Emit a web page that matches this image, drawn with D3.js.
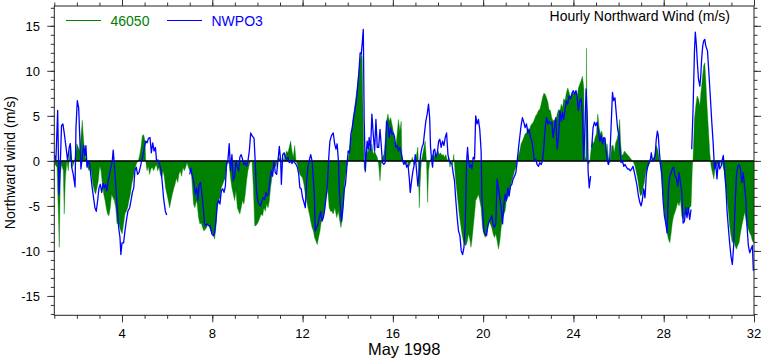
<!DOCTYPE html>
<html><head><meta charset="utf-8">
<script src="https://cdn.jsdelivr.net/npm/d3@7"></script>
<style>body{margin:0;background:#fff}svg{display:block;font-family:"Liberation Sans",Arial,sans-serif}</style>
</head><body><svg id="c" width="762" height="359"></svg>
<script>
// Series 46050 (filled): [day of May 1998, northward wind m/s]
const obs46050 = [[1.00,-0.3],[1.12,-0.7],[1.19,-6.7],[1.22,-9.6],[1.27,-1.5],[1.32,-0.4],[1.40,-1.1],[1.44,-5.9],[1.49,-1.9],[1.56,0],[1.62,-1.1],[1.68,0.8],[1.71,2.0],[1.76,0.5],[1.81,-0.7],[1.89,0],[1.95,0.7],[2.00,1.9],[2.06,1.5],[2.12,1.1],[2.18,2.6],[2.24,4.5],[2.30,2.2],[2.36,0.7],[2.42,0],[2.48,-0.7],[2.54,-1.1],[2.60,-0.7],[2.65,-1.5],[2.71,-2.6],[2.77,-3.3],[2.83,-3.7],[2.89,-3.0],[2.95,-2.2],[3.01,-0.6],[3.07,-1.1],[3.13,-2.6],[3.19,-3.7],[3.25,-4.4],[3.30,-5.2],[3.36,-5.9],[3.42,-6.1],[3.48,-5.2],[3.54,-3.7],[3.60,-4.1],[3.66,-4.4],[3.72,-5.2],[3.78,-7.0],[3.84,-6.7],[3.90,-7.4],[3.95,-7.8],[4.01,-8.1],[4.07,-7.0],[4.13,-5.9],[4.19,-5.6],[4.25,-5.2],[4.31,-4.4],[4.37,-3.7],[4.43,-2.6],[4.49,-1.9],[4.55,-1.1],[4.60,-0.6],[4.66,-0.2],[4.72,0],[4.78,0.6],[4.84,1.5],[4.90,2.8],[4.96,2.9],[5.02,2.2],[5.05,0],[5.11,-1.1],[5.17,-0.6],[5.22,-1.5],[5.28,-0.9],[5.34,-0.7],[5.40,-1.1],[5.46,-0.7],[5.52,-0.4],[5.58,-1.1],[5.64,-0.7],[5.70,-1.5],[5.76,-1.9],[5.82,-1.1],[5.87,-1.7],[5.93,-3.0],[5.99,-3.7],[6.05,-4.4],[6.11,-5.2],[6.17,-4.4],[6.23,-3.7],[6.29,-3.1],[6.35,-2.6],[6.41,-1.9],[6.47,-2.4],[6.52,-1.5],[6.58,-1.1],[6.64,-1.7],[6.70,-0.7],[6.76,-1.1],[6.82,-0.7],[6.88,-0.2],[6.94,-0.7],[7.00,-1.1],[7.06,-0.9],[7.12,-3.0],[7.17,-4.8],[7.23,-5.2],[7.29,-4.4],[7.33,-4.8],[7.39,-6.3],[7.45,-7.0],[7.51,-6.9],[7.57,-7.4],[7.63,-7.8],[7.69,-7.6],[7.75,-7.4],[7.81,-7.0],[7.87,-7.4],[7.93,-7.8],[7.98,-8.0],[8.04,-8.1],[8.10,-8.7],[8.16,-7.4],[8.22,-5.2],[8.28,-4.4],[8.34,-4.1],[8.40,-3.0],[8.46,-2.6],[8.52,-2.2],[8.58,-1.9],[8.63,-0.7],[8.69,0],[8.75,-0.4],[8.81,-1.9],[8.87,-3.0],[8.93,-3.7],[8.99,-4.4],[9.05,-3.3],[9.11,-5.2],[9.17,-5.6],[9.22,-5.9],[9.28,-5.2],[9.34,-4.4],[9.40,-4.8],[9.46,-3.7],[9.52,-2.2],[9.58,-1.1],[9.64,-0.4],[9.70,0],[9.76,0],[9.82,-3.0],[9.88,-7.2],[9.93,-7.2],[9.99,-7.0],[10.05,-6.7],[10.11,-6.3],[10.17,-5.9],[10.23,-6.1],[10.29,-5.2],[10.35,-5.6],[10.41,-4.8],[10.47,-5.2],[10.53,-4.4],[10.58,-3.0],[10.64,-1.9],[10.70,-1.1],[10.76,-0.4],[10.82,-0.7],[10.88,0],[10.94,0.4],[11.00,0.2],[11.06,-0.2],[11.12,0.4],[11.18,0],[11.23,0.6],[11.29,1.1],[11.35,0.9],[11.41,1.5],[11.47,2.2],[11.53,1.1],[11.59,0.4],[11.65,1.7],[11.71,0],[11.77,-0.4],[11.83,-1.1],[11.88,-1.5],[11.94,-1.7],[12.00,-1.9],[12.06,-2.6],[12.12,-3.7],[12.18,-4.4],[12.24,-5.2],[12.30,-5.9],[12.36,-6.7],[12.42,-7.4],[12.48,-7.8],[12.53,-8.5],[12.59,-8.9],[12.65,-9.3],[12.71,-8.5],[12.77,-7.8],[12.83,-6.7],[12.89,-6.3],[12.95,-5.9],[13.01,-4.8],[13.07,-3.0],[13.13,-3.7],[13.18,-5.2],[13.24,-5.6],[13.30,-5.6],[13.36,-5.9],[13.43,-5.2],[13.51,-6.3],[13.58,-5.6],[13.65,-6.7],[13.70,-7.4],[13.76,-6.3],[13.82,-4.4],[13.87,-2.2],[13.95,-0.7],[14.01,0],[14.07,1.1],[14.13,2.2],[14.18,3.3],[14.24,4.8],[14.30,5.9],[14.36,7.0],[14.42,8.1],[14.48,9.6],[14.54,11.1],[14.60,12.0],[14.64,11.5],[14.69,3.7],[14.73,-0.7],[14.78,-1.3],[14.83,1.5],[14.89,0.9],[14.95,1.5],[15.01,0.9],[15.07,1.9],[15.13,0.7],[15.19,1.1],[15.25,0.7],[15.31,0.4],[15.37,-0.4],[15.43,-2.2],[15.48,-0.4],[15.54,0.4],[15.60,0.7],[15.66,2.2],[15.72,4.4],[15.78,5.2],[15.84,4.4],[15.90,4.8],[15.96,4.1],[16.02,3.3],[16.08,2.2],[16.13,1.5],[16.19,3.0],[16.25,4.6],[16.31,3.3],[16.37,4.4],[16.40,0.7],[16.46,0],[16.52,-0.2],[16.58,-0.4],[16.64,0],[16.70,-0.7],[16.75,-0.4],[16.81,0],[16.87,0.4],[16.93,-0.4],[16.99,0],[17.05,0.7],[17.11,1.5],[17.17,-5.2],[17.20,-3.0],[17.26,0],[17.32,0.7],[17.38,1.5],[17.43,2.2],[17.49,0],[17.54,-4.6],[17.58,-1.1],[17.64,0],[17.70,0.4],[17.76,0.7],[17.82,0.4],[17.88,0.9],[17.94,0.4],[18.00,1.1],[18.06,0.7],[18.11,0.9],[18.17,0.6],[18.23,0.7],[18.29,0.4],[18.35,0.7],[18.41,0],[18.47,0.4],[18.53,-0.7],[18.59,0],[18.65,-0.4],[18.70,0.7],[18.76,-1.5],[18.82,-3.0],[18.88,-4.4],[18.94,-5.9],[19.00,-7.0],[19.06,-8.1],[19.12,-8.9],[19.18,-9.3],[19.24,-9.4],[19.30,-8.9],[19.35,-8.1],[19.41,-8.7],[19.46,-9.6],[19.50,-8.9],[19.56,-7.4],[19.62,-5.9],[19.67,-4.4],[19.73,-4.1],[19.79,-3.7],[19.85,-4.4],[19.91,-5.2],[19.97,-7.4],[20.03,-8.1],[20.09,-8.5],[20.15,-8.1],[20.21,-7.4],[20.27,-6.7],[20.32,-7.0],[20.38,-7.4],[20.44,-8.1],[20.50,-8.5],[20.56,-8.1],[20.62,-8.9],[20.68,-9.8],[20.74,-8.9],[20.80,-7.4],[20.86,-6.3],[20.92,-5.9],[20.97,-5.6],[21.03,-4.4],[21.09,-4.1],[21.15,-3.7],[21.21,-3.0],[21.27,-2.2],[21.33,-1.7],[21.39,-1.1],[21.45,-0.7],[21.51,0],[21.57,0.7],[21.62,1.1],[21.68,1.9],[21.74,2.2],[21.80,2.6],[21.86,3.0],[21.92,3.1],[21.98,3.7],[22.04,3.3],[22.10,3.9],[22.16,4.1],[22.22,4.3],[22.27,4.6],[22.33,5.0],[22.39,5.2],[22.45,5.6],[22.51,5.7],[22.57,6.3],[22.63,7.0],[22.69,7.5],[22.75,7.4],[22.81,7.0],[22.87,6.5],[22.92,5.7],[22.98,5.6],[23.04,4.8],[23.10,4.4],[23.16,4.6],[23.22,4.4],[23.28,5.2],[23.34,5.7],[23.40,5.4],[23.46,6.3],[23.52,5.9],[23.57,6.9],[23.63,6.7],[23.69,7.6],[23.75,8.1],[23.81,7.6],[23.87,7.0],[23.93,7.6],[23.99,7.4],[24.05,7.6],[24.11,7.8],[24.16,7.0],[24.22,8.1],[24.28,8.5],[24.34,8.9],[24.40,9.4],[24.46,8.1],[24.49,0],[24.55,0.5],[24.58,12.5],[24.61,0],[24.67,-0.4],[24.73,0],[24.79,1.5],[24.85,2.2],[24.90,1.9],[24.96,2.6],[25.02,3.0],[25.08,5.2],[25.14,3.7],[25.20,3.0],[25.26,3.3],[25.32,2.2],[25.38,2.6],[25.44,1.1],[25.49,1.9],[25.55,0.4],[25.61,-0.2],[25.64,0.2],[25.70,1.7],[25.76,1.7],[25.81,0.9],[25.87,2.0],[25.93,2.4],[25.99,3.1],[26.05,4.6],[26.09,2.0],[26.14,0.6],[26.20,0.7],[26.26,1.1],[26.32,0.9],[26.38,0.7],[26.43,0.6],[26.49,0.4],[26.55,0.2],[26.61,0],[26.67,-0.2],[26.73,-0.6],[26.79,-1.3],[26.85,-2.0],[26.91,-3.1],[26.97,-3.9],[27.03,-3.7],[27.08,-3.1],[27.14,-2.4],[27.20,-1.3],[27.26,-0.9],[27.32,-0.6],[27.38,-0.2],[27.44,0],[27.50,0.2],[27.56,0.4],[27.62,0.9],[27.67,1.7],[27.73,1.3],[27.79,0.4],[27.85,-0.6],[27.91,-2.0],[27.97,-3.9],[28.03,-5.7],[28.09,-6.9],[28.15,-8.0],[28.21,-8.7],[28.27,-9.1],[28.33,-8.0],[28.38,-6.9],[28.44,-6.1],[28.50,-5.7],[28.56,-5.2],[28.62,-4.6],[28.68,-5.0],[28.74,-4.3],[28.80,-6.1],[28.86,-6.5],[28.92,-6.1],[28.98,-5.7],[29.03,-5.4],[29.09,-5.7],[29.15,-5.2],[29.21,-5.0],[29.27,-0.6],[29.30,0.2],[29.36,4.6],[29.42,6.1],[29.48,7.2],[29.54,6.9],[29.60,6.1],[29.65,7.6],[29.71,9.1],[29.77,10.6],[29.82,10.9],[29.86,9.1],[29.92,6.1],[29.98,3.5],[30.04,0.9],[30.10,-0.6],[30.16,-1.3],[30.22,-2.0],[30.27,-0.9],[30.33,-0.6],[30.39,-0.2],[30.45,-0.6],[30.51,-0.2],[30.57,0],[30.63,-0.6],[30.69,-1.3],[30.75,-2.8],[30.81,-4.3],[30.87,-5.7],[30.92,-7.2],[30.98,-8.3],[31.04,-9.1],[31.10,-8.7],[31.16,-9.4],[31.22,-9.8],[31.28,-9.4],[31.34,-9.1],[31.40,-8.0],[31.46,-7.2],[31.52,-6.5],[31.58,-5.7],[31.64,-6.5],[31.69,-7.2],[31.75,-7.6],[31.81,-8.0],[31.87,-8.3],[31.93,-8.9],[32.00,-9.1]];

// Series NWPO3 (line); null marks missing hours
const obsNWPO3 = [[1.00,0.7],[1.07,0],[1.15,5.6],[1.21,-3.7],[1.27,0],[1.32,3.9],[1.38,4.1],[1.44,3.1],[1.52,1.5],[1.59,0],[1.66,1.5],[1.71,1.9],[1.77,-0.7],[1.84,-1.5],[1.92,-2.9],[1.96,3.7],[2.02,6.7],[2.08,5.9],[2.14,1.9],[2.18,-0.9],[2.24,0.4],[2.30,1.7],[2.36,0.6],[2.40,1.7],[2.45,-0.7],[2.51,0],[2.57,-0.4],[2.62,-1.7],[2.68,-3.0],[2.74,-4.1],[2.80,-5.2],[2.86,-5.6],[2.92,-4.4],[2.98,-3.0],[3.04,-2.6],[3.10,-3.5],[3.16,-2.5],[3.22,-3.0],[3.27,-2.6],[3.33,-3.3],[3.39,-2.2],[3.45,-1.5],[3.51,-0.7],[3.57,0],[3.61,1.2],[3.67,-0.7],[3.73,-3.0],[3.79,-5.2],[3.85,-7.4],[3.91,-8.5],[3.95,-10.4],[4.00,-9.1],[4.07,-9.1],[4.13,-7.8],[4.19,-6.7],[4.26,-5.6],[4.34,-5.2],[4.40,-4.4],[4.46,-3.5],[4.52,-3.0],[4.57,-1.1],[4.63,-0.7],[4.69,-1.5],[4.75,-1.3],[4.81,-0.7],[4.87,0],[4.93,0.7],[4.99,1.5],[5.05,2.2],[5.11,2.0],[5.17,2.5],[5.24,2.6],[5.30,0.9],[5.36,2.0],[5.42,1.1],[5.48,1.5],[5.53,0],[5.59,0.1],[5.67,-0.4],[5.73,-1.1],[5.79,-2.6],[5.84,-4.1],[5.92,-5.6],[5.98,-6.0],[5.99,null],[7.00,-1.5],[7.05,-0.8],[7.10,-1.5],[7.17,-2.2],[7.25,-3.7],[7.31,-3.0],[7.36,-4.4],[7.42,-2.6],[7.48,-2.4],[7.54,-3.7],[7.60,-5.2],[7.66,-7.0],[7.72,-7.2],[7.78,-7.0],[7.84,-7.2],[7.91,-7.2],[7.98,-8.1],[8.04,-8.3],[8.10,-8.0],[8.16,-6.7],[8.22,-4.8],[8.28,-4.4],[8.34,-4.8],[8.40,-3.3],[8.46,-3.1],[8.52,-3.5],[8.58,-2.8],[8.63,-0.4],[8.69,0],[8.75,1.9],[8.81,-1.1],[8.87,0.7],[8.93,-2.2],[8.99,-1.7],[9.05,0],[9.11,-0.7],[9.17,-1.1],[9.22,0.4],[9.28,0.7],[9.34,0.2],[9.40,-0.4],[9.46,-0.2],[9.52,-0.6],[9.58,0],[9.64,1.1],[9.70,3.1],[9.76,2.8],[9.85,2.5],[9.90,0],[9.95,-3.0],[10.01,-4.4],[10.07,-4.8],[10.13,-5.0],[10.20,-4.4],[10.26,-4.1],[10.32,-4.3],[10.38,-3.5],[10.44,-3.9],[10.50,-3.5],[10.55,-2.2],[10.61,-1.1],[10.67,-1.7],[10.73,0],[10.79,-1.3],[10.85,-1.5],[10.91,0],[10.97,1.6],[11.03,0],[11.06,-2.6],[11.12,0.7],[11.18,0.9],[11.23,0.4],[11.29,0.2],[11.35,0.4],[11.41,-0.2],[11.47,0],[11.53,-0.3],[11.59,0],[11.65,-0.2],[11.71,-0.4],[11.77,-0.7],[11.83,-1.5],[11.88,-3.0],[11.94,-3.1],[12.00,-4.1],[12.06,-4.6],[12.12,-5.2],[12.18,-2.2],[12.24,-0.7],[12.30,0.1],[12.36,0.7],[12.42,0],[12.48,-2.2],[12.52,-3.7],[12.56,-7.8],[12.62,-7.4],[12.68,-7.0],[12.74,-6.3],[12.80,-5.6],[12.86,-6.7],[12.92,-6.3],[12.98,-5.4],[13.04,-4.1],[13.10,-2.6],[13.15,0],[13.21,2.2],[13.28,2.8],[13.36,3.1],[13.42,1.9],[13.48,1.3],[13.53,1.9],[13.59,0],[13.62,-3.1],[13.68,-5.2],[13.73,-6.7],[13.79,-5.2],[13.85,-3.1],[13.90,-2.6],[13.96,-0.7],[14.02,1.1],[14.08,0.9],[14.14,3.0],[14.20,3.7],[14.26,4.8],[14.32,5.7],[14.38,6.7],[14.44,8.3],[14.50,10.0],[14.55,12.0],[14.60,11.9],[14.64,13.0],[14.69,14.6],[14.73,4.4],[14.78,-1.1],[14.82,0.7],[14.86,2.2],[14.91,1.3],[14.95,2.6],[15.01,1.1],[15.07,5.2],[15.13,3.0],[15.19,1.1],[15.25,4.6],[15.31,1.5],[15.37,1.5],[15.43,3.5],[15.48,1.9],[15.54,-0.2],[15.60,-0.4],[15.66,-0.2],[15.72,4.4],[15.78,4.1],[15.84,2.6],[15.90,3.7],[15.96,3.0],[16.02,3.1],[16.08,2.6],[16.13,1.5],[16.19,1.7],[16.25,1.1],[16.31,1.5],[16.37,0.9],[16.43,0],[16.49,-0.4],[16.55,0],[16.61,-0.7],[16.67,-0.4],[16.73,-2.0],[16.77,-3.5],[16.83,-2.2],[16.89,-1.1],[16.95,-0.4],[16.99,0.7],[17.05,-1.1],[17.11,-2.8],[17.17,-1.1],[17.23,0.7],[17.29,1.5],[17.35,1.9],[17.41,3.3],[17.46,4.4],[17.52,5.2],[17.58,6.3],[17.63,4.8],[17.67,1.5],[17.72,0],[17.76,-0.7],[17.80,1.1],[17.85,1.3],[17.91,0.4],[17.97,0.9],[18.03,2.2],[18.08,2.4],[18.14,1.5],[18.20,2.2],[18.26,1.7],[18.32,2.6],[18.38,3.1],[18.44,0.7],[18.50,0],[18.56,-0.2],[18.62,-0.4],[18.68,-1.5],[18.73,-2.2],[18.79,-4.4],[18.85,-6.3],[18.91,-7.8],[18.97,-8.3],[19.03,-10.0],[19.09,-10.4],[19.15,-9.6],[19.21,-6.7],[19.27,0],[19.31,1.5],[19.35,0],[19.41,-0.7],[19.47,-0.4],[19.50,-0.9],[19.56,0.4],[19.62,0.2],[19.67,5.0],[19.73,4.1],[19.79,4.6],[19.85,3.5],[19.91,1.1],[19.94,-3.7],[19.98,-5.6],[20.03,-7.8],[20.09,-8.1],[20.15,-8.3],[20.21,-7.2],[20.27,-6.7],[20.32,-6.5],[20.38,-6.1],[20.44,-7.0],[20.50,-7.4],[20.56,-7.0],[20.62,-2.0],[20.68,-3.1],[20.74,-4.1],[20.80,-5.2],[20.86,-7.0],[20.92,-4.8],[20.97,-3.7],[21.03,-4.4],[21.09,-3.0],[21.15,-3.9],[21.21,-2.8],[21.27,-2.6],[21.33,-2.0],[21.39,-1.7],[21.45,-1.3],[21.51,0],[21.57,1.5],[21.62,2.6],[21.68,3.9],[21.74,4.8],[21.80,4.3],[21.86,3.7],[21.92,4.1],[21.98,3.1],[22.04,3.5],[22.10,2.6],[22.16,2.2],[22.22,1.1],[22.27,0],[22.33,0.2],[22.39,-0.4],[22.45,-0.6],[22.51,-0.2],[22.57,-0.4],[22.63,0],[22.69,1.5],[22.75,3.7],[22.81,4.8],[22.87,4.1],[22.92,4.4],[22.98,4.1],[23.04,4.3],[23.10,2.6],[23.16,3.7],[23.22,4.8],[23.28,1.3],[23.34,2.6],[23.40,5.6],[23.46,4.4],[23.52,5.4],[23.57,4.6],[23.63,5.7],[23.69,6.7],[23.75,6.3],[23.81,7.2],[23.87,6.9],[23.93,7.4],[23.99,7.8],[24.05,7.4],[24.11,7.8],[24.16,7.2],[24.22,5.6],[24.28,6.7],[24.34,6.9],[24.40,5.0],[24.46,0],[24.52,4.4],[24.56,8.0],[24.61,5.2],[24.65,-1.1],[24.70,-3.0],[24.76,-1.7],[24.78,null],[24.81,1.5],[24.87,3.7],[24.93,4.3],[24.99,3.9],[25.05,4.3],[25.11,3.1],[25.17,2.2],[25.23,2.8],[25.29,1.9],[25.35,2.6],[25.40,2.5],[25.45,1.0],[25.50,0],[25.55,-0.4],[25.61,0.2],[25.67,3.9],[25.73,7.6],[25.78,6.7],[25.84,7.0],[25.90,5.2],[25.96,3.5],[26.02,2.8],[26.07,0.9],[26.11,-0.2],[26.17,0],[26.23,-0.6],[26.29,-0.4],[26.35,-0.7],[26.40,-0.9],[26.46,-0.9],[26.52,-1.1],[26.58,-0.9],[26.64,-0.6],[26.70,-1.3],[26.76,-2.0],[26.82,-2.8],[26.88,-3.9],[26.94,-4.6],[27.00,-5.0],[27.05,-4.4],[27.11,-3.1],[27.17,-4.1],[27.23,-1.5],[27.29,-0.6],[27.35,-0.2],[27.41,0.2],[27.45,0.9],[27.50,0],[27.56,0],[27.62,0.6],[27.67,2.4],[27.72,3.3],[27.76,2.8],[27.81,0.9],[27.85,-0.2],[27.91,-1.3],[27.97,-4.3],[28.03,-6.1],[28.09,-6.9],[28.15,-8.0],[28.21,-3.1],[28.27,-1.7],[28.33,-1.3],[28.38,-0.9],[28.44,-0.7],[28.50,-1.7],[28.56,-1.9],[28.62,-2.8],[28.68,-1.3],[28.74,-2.4],[28.80,-3.5],[28.86,-6.9],[28.92,-6.7],[28.98,-5.2],[29.03,-6.3],[29.09,-5.2],[29.15,-6.5],[29.21,-5.4],[29.22,null],[29.24,1.3],[29.30,5.7],[29.36,12.0],[29.40,14.3],[29.45,12.8],[29.49,10.9],[29.54,9.1],[29.60,8.3],[29.64,9.4],[29.68,11.3],[29.73,12.8],[29.77,13.3],[29.82,13.5],[29.86,12.8],[29.94,12.2],[30.01,9.4],[30.07,6.9],[30.13,4.3],[30.19,2.0],[30.25,-0.9],[30.30,-0.2],[30.36,-2.0],[30.42,0],[30.48,-0.9],[30.54,-0.6],[30.60,0.2],[30.64,0.6],[30.69,-0.9],[30.75,-2.8],[30.81,-5.7],[30.87,-7.6],[30.92,-9.1],[30.98,-10.6],[31.04,-11.5],[31.10,-9.4],[31.16,-5.0],[31.22,-1.7],[31.28,-0.6],[31.34,-0.4],[31.40,-0.9],[31.46,-2.4],[31.52,-1.3],[31.58,-2.8],[31.64,-4.3],[31.69,-7.2],[31.75,-9.4],[31.81,-10.2],[31.87,-9.8],[31.93,-9.4],[31.97,-12.2]];

const seriesNames = ["46050", "NWPO3"];
const seriesColors = ["#008000", "#0000ff"];
const xMajorTicks = [4, 8, 12, 16, 20, 24, 28, 32];
const yMajorTicks = [-15, -10, -5, 0, 5, 10, 15];
const xTitle = "May 1998";
const yTitle = "Northward wind (m/s)";
const chartTitle = "Hourly Northward Wind (m/s)";

const svg = d3.select("#c");
const L = 54.3, R = 754, T = 6, B = 315.3;
const x = d3.scaleLinear().domain([1, 32]).range([L, R]);
const y = d3.scaleLinear().domain([-17.15, 17.2]).range([B, T]);

const plot = svg.append("g");
plot.append("clipPath").attr("id", "clip").append("rect")
  .attr("x", L).attr("y", T).attr("width", R - L).attr("height", B - T);

const area = d3.area().x(d => x(d[0])).y0(y(0)).y1(d => y(d[1]));
plot.append("path").datum(obs46050).attr("clip-path", "url(#clip)")
  .attr("d", area).attr("fill", seriesColors[0]).attr("stroke", seriesColors[0]).attr("stroke-width", 0.4);

plot.append("line").attr("x1", L).attr("x2", R).attr("y1", y(0)).attr("y2", y(0))
  .attr("stroke", "#000").attr("stroke-width", 1.5);

const line = d3.line().defined(d => d[1] !== null).x(d => x(d[0])).y(d => y(d[1]));
plot.append("path").datum(obsNWPO3).attr("clip-path", "url(#clip)")
  .attr("d", line).attr("fill", "none").attr("stroke", seriesColors[1]).attr("stroke-width", 1.3)
  .attr("stroke-linejoin", "round");

// axes (ticks outward on all four sides)
const tickCol = "#333";
function addAxis(gen, tr) {
  const g = svg.append("g").attr("transform", tr).call(gen);
  g.select(".domain").remove();
  g.selectAll("line").attr("stroke", tickCol);
  g.selectAll("text").remove();
}
const xMinor = d3.range(1, 33), yMinor = d3.range(-17, 18);
addAxis(d3.axisBottom(x).tickValues(xMinor).tickSize(3.5), `translate(0,${B})`);
addAxis(d3.axisBottom(x).tickValues(xMajorTicks).tickSize(7), `translate(0,${B})`);
addAxis(d3.axisTop(x).tickValues(xMinor).tickSize(3.5), `translate(0,${T})`);
addAxis(d3.axisTop(x).tickValues(xMajorTicks).tickSize(7), `translate(0,${T})`);
addAxis(d3.axisLeft(y).tickValues(yMinor).tickSize(3.5), `translate(${L},0)`);
addAxis(d3.axisLeft(y).tickValues(yMajorTicks).tickSize(7), `translate(${L},0)`);
addAxis(d3.axisRight(y).tickValues(yMinor).tickSize(3.5), `translate(${R},0)`);
addAxis(d3.axisRight(y).tickValues(yMajorTicks).tickSize(7), `translate(${R},0)`);

svg.append("rect").attr("x", L).attr("y", T).attr("width", R - L).attr("height", B - T)
  .attr("fill", "none").attr("stroke", "#222").attr("stroke-width", 1);

svg.append("g").selectAll("text").data(xMajorTicks).join("text")
  .attr("x", d => x(d)).attr("y", 337.6).attr("text-anchor", "middle")
  .attr("font-size", 13).attr("fill", "#000").text(d => d);
svg.append("g").selectAll("text").data(yMajorTicks).join("text")
  .attr("x", 40).attr("y", d => y(d) + 4.7).attr("text-anchor", "end")
  .attr("font-size", 13).attr("fill", "#000").text(d => d);

svg.append("text").attr("x", (L + R) / 2).attr("y", 355.4).attr("text-anchor", "middle")
  .attr("font-size", 16.5).text(xTitle);
svg.append("text").attr("transform", `translate(15,${(T + B) / 2 + 2}) rotate(-90)`)
  .attr("text-anchor", "middle").attr("font-size", 14).text(yTitle);
svg.append("text").attr("x", 730).attr("y", 21).attr("text-anchor", "end")
  .attr("font-size", 14).text(chartTitle);

// legend
const legX = [66, 167];
seriesNames.forEach((n, i) => {
  svg.append("line").attr("x1", legX[i]).attr("x2", legX[i] + 35).attr("y1", 20.5).attr("y2", 20.5)
    .attr("stroke", seriesColors[i]).attr("stroke-width", 1.1);
  svg.append("text").attr("x", legX[i] + 44.5).attr("y", 26).attr("font-size", 14)
    .attr("fill", seriesColors[i]).text(n);
});
</script></body></html>
